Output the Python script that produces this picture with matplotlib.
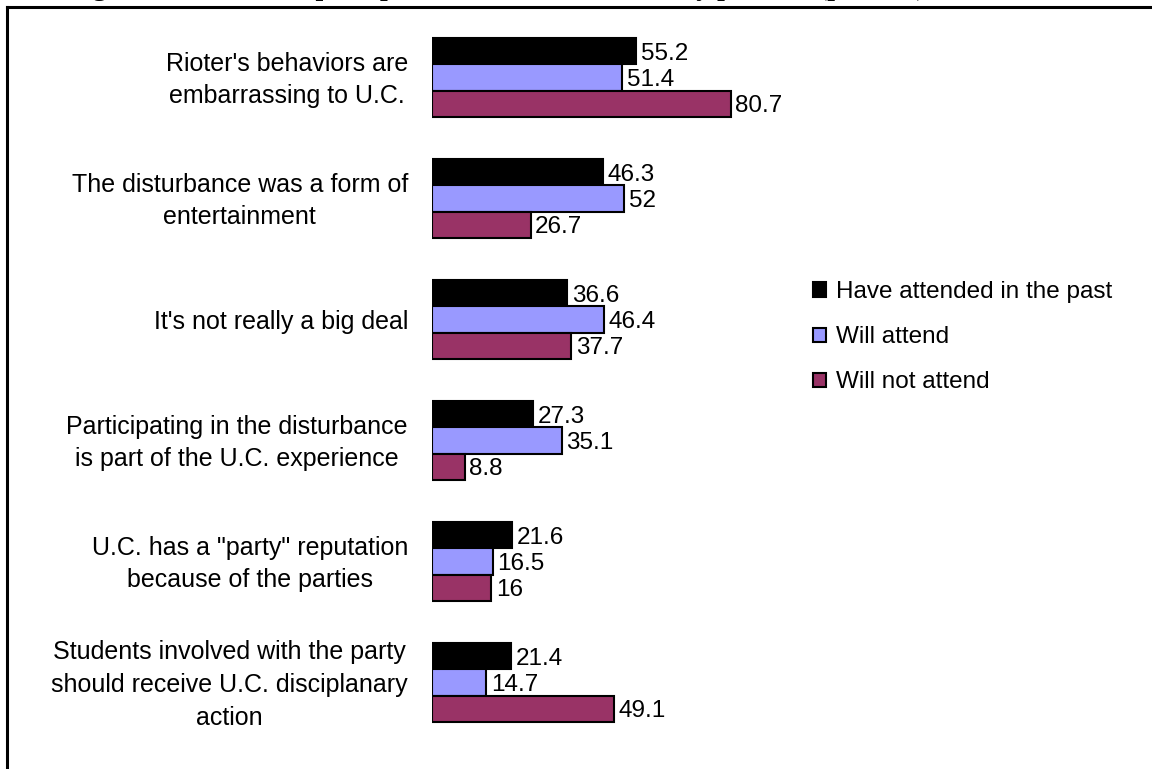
import matplotlib.pyplot as plt
import matplotlib.patches as mpatches
from matplotlib.lines import Line2D
import numpy as np

plt.rcParams['font.family'] = ['Liberation Sans', 'DejaVu Sans']

# statements, top to bottom
categories = ["Rioter's behaviors are\nembarrassing to U.C.",
              "The disturbance was a form of\nentertainment",
              "It's not really a big deal",
              "Participating in the disturbance\nis part of the U.C. experience",
              "U.C. has a \"party\" reputation\nbecause of the parties",
              "Students involved with the party\nshould receive U.C. disciplanary\naction"]
attended = [55.2, 46.3, 36.6, 27.3, 21.6, 21.4]
will_attend = [51.4, 52, 46.4, 35.1, 16.5, 14.7]
will_not = [80.7, 26.7, 37.7, 8.8, 16, 49.1]
series = ["Have attended in the past", "Will attend", "Will not attend"]
colors = ["#000000", "#9999FF", "#993366"]

fig = plt.figure(figsize=(11.52, 7.69), dpi=100)
ax = fig.add_axes([432/1152, 1-743/769, 370/1152, 726/769])

y = np.arange(len(categories))
h = 0.215
for i, (vals, c, name) in enumerate(zip([attended, will_attend, will_not], colors, series)):
    pos = y + (i - 1) * h
    ax.barh(pos, vals, height=h, color=c, edgecolor='black', linewidth=1.5, label=name)
    for p, v in zip(pos, vals):
        ax.text(v + 1.2, p + 0.02, f"{v:g}", va='center', ha='left', fontsize=17.5)

ax.set_xlim(0, 100)
ax.set_ylim(len(categories) - 0.5, -0.5)
ax.axis('off')

for yy, lab in zip(y, categories):
    fig.text(408/1152, 1 - (80 + yy*121)/769, lab, ha='right', va='center',
             fontsize=18, linespacing=1.45, multialignment='center')

handles = [mpatches.Patch(facecolor=c, edgecolor='black', linewidth=1.5) for c in colors]
fig.legend(handles, series, loc='upper left', bbox_to_anchor=(801/1152, 1-269/769),
           frameon=False, fontsize=17.5, handlelength=0.52, handleheight=0.52,
           handletextpad=0.42, labelspacing=0.95, borderpad=0)

# outer frame (cropped at right/bottom)
fig.add_artist(Line2D([7/1152, 1], [1-7/769, 1-7/769], color='black', lw=2.2, transform=fig.transFigure))
fig.add_artist(Line2D([7/1152, 7/1152], [0, 1-7/769], color='black', lw=2.2, transform=fig.transFigure))

# title, mostly cut off at the top
fig.text(68/1152, 1 + 5/769, "Figure 12: Students' perceptions of the disturbance by position (percent)",
         ha='left', va='baseline', fontsize=20, fontweight='bold', family='Liberation Serif')

fig.savefig("out.png", dpi=100)
